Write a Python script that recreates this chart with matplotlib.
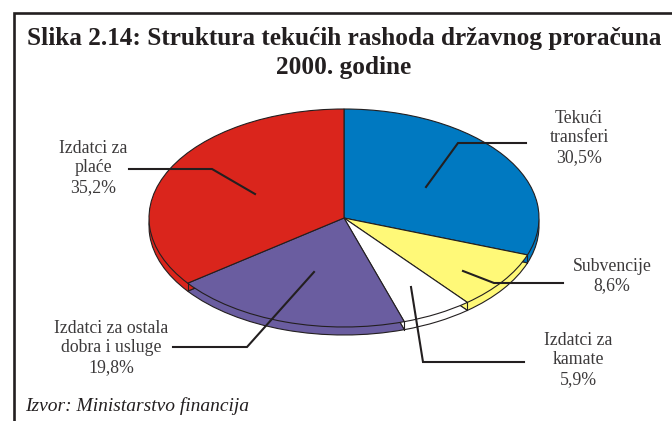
"""Struktura tekucih rashoda - tilted pie with leader lines."""

import matplotlib
matplotlib.use("Agg")
import matplotlib.pyplot as plt
import numpy as np

W, H = 672, 421

# Clockwise from 12 o'clock
categories = ["Tekući\ntransferi", "Subvencije", "Izdatci za\nkamate",
              "Izdatci za ostala\ndobra i usluge", "Izdatci za\nplaće"]
values = [30.5, 8.6, 5.9, 19.8, 35.2]
value_labels = ["30,5%", "8,6%", "5,9%", "19,8%", "35,2%"]
colors = ["#0079C1", "#FFF978", "#FFFFFF", "#6A5DA0", "#DA251C"]

title = "Slika 2.14: Struktura tekućih rashoda državnog proračuna\n2000. godine"
source = "Izvor: Ministarstvo financija"

INK = "#231F20"
TEXT = "#3C3A3B"

# Pie geometry in pixels
CX, CY, RX, RY, DEPTH = 344, 218, 195, 109, 8

# Label centres, same order as categories
label_pos = [(579, 138), (612, 276), (578, 360), (111, 348), (93, 168)]

# Leader polylines, same order as categories
leaders = [
    [(426, 187), (458, 143), (526, 143)],
    [(463, 271), (494, 283), (563, 283)],
    [(411, 287), (423, 362), (524, 362)],
    [(314, 272), (247, 347), (173, 347)],
    [(255, 194), (212, 169), (129, 169)],
]

plt.rcParams["font.family"] = ["Liberation Serif", "DejaVu Serif"]


def pie_axes(fig, shift):
    """Axes stretched so that a unit pie fills the tilted ellipse."""
    ax = fig.add_axes([(CX - RX) / W, 1 - (CY + shift + RY) / H,
                       2 * RX / W, 2 * RY / H])
    wedges, _ = ax.pie(values, colors=colors, startangle=90, counterclock=False,
                       radius=1.0,
                       wedgeprops={"edgecolor": INK, "linewidth": 0.8})
    ax.set_aspect("auto")
    ax.set_xlim(-1, 1)
    ax.set_ylim(-1, 1)
    for w in wedges:
        w.set_clip_on(False)
    return wedges


fig = plt.figure(figsize=(W / 100, H / 100), dpi=100, facecolor="white")

pie_axes(fig, DEPTH)          # rim, sits behind
wedges = pie_axes(fig, 0)     # top face

# Overlay in image pixels for frame, leaders and text
ov = fig.add_axes([0, 0, 1, 1], zorder=5)
ov.set_xlim(0, W)
ov.set_ylim(H, 0)
ov.axis("off")

# Frame: only top and left show in the crop
ov.plot([14, 14, W], [H, 13, 13], color=INK, lw=1.9, solid_joinstyle="miter")

# Rim edges where slices meet on the front half
for w in wedges:
    t = np.deg2rad(w.theta1)
    if np.sin(t) < 0:
        x = CX + RX * np.cos(t)
        y = CY - RY * np.sin(t)
        ov.plot([x, x], [y, y + DEPTH], color=INK, lw=0.8)

for line in leaders:
    xs, ys = zip(*line)
    ov.plot(xs, ys, color=INK, lw=1.5, solid_joinstyle="miter")

for cat, val, (x, y) in zip(categories, value_labels, label_pos):
    ov.text(x, y, f"{cat}\n{val}", ha="center", va="center", fontsize=12.8,
            color=TEXT, linespacing=1.2)

ov.text(344, 53, title, ha="center", va="center", fontsize=18.2,
        fontweight="bold", color=INK, linespacing=1.33)
ov.text(25, 406, source, ha="left", va="center", fontsize=14.0,
        fontstyle="italic", color=INK)

fig.savefig("out.png", dpi=100)
plt.close(fig)
